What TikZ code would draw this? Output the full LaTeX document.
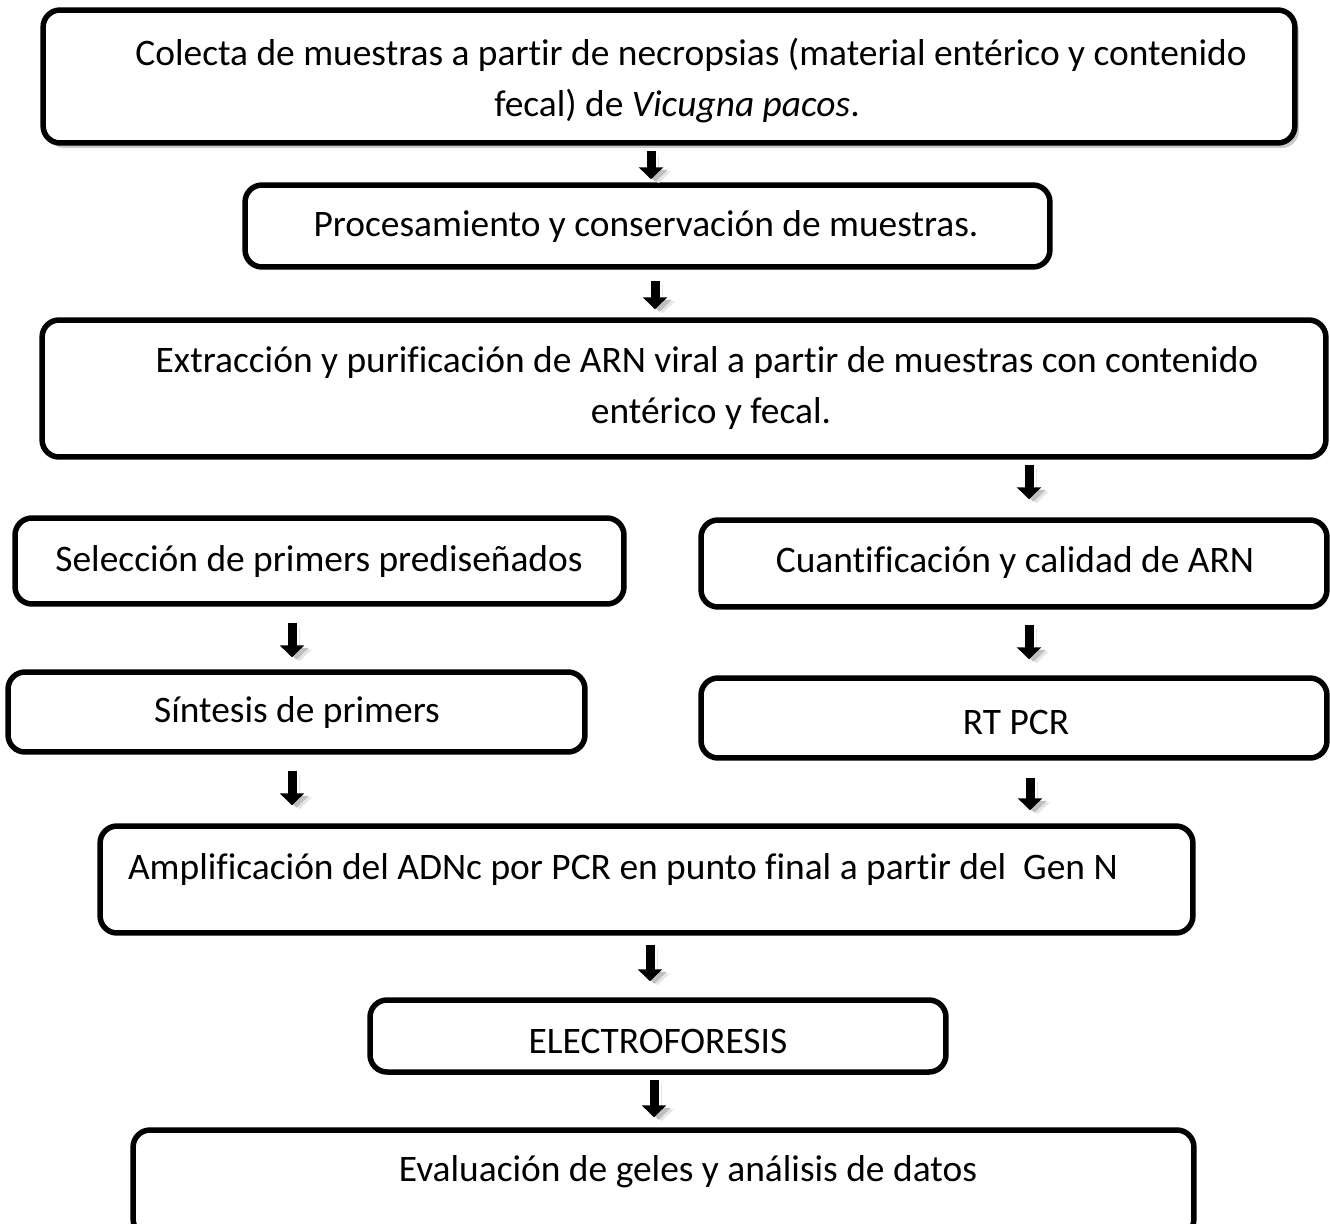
\documentclass[tikz,border=0pt]{standalone}
\usepackage{fontspec}
\setmainfont{Carlito}[Ligatures=NoCommon]
\usetikzlibrary{arrows.meta,shadows}
\begin{document}
\begin{tikzpicture}[x=0.02cm,y=-0.02cm,
  box/.style={draw=black, line width=0.11cm, rounded corners=0.34cm, fill=white, inner sep=0pt},
  bigshadow/.style={drop shadow={shadow xshift=0.08cm, shadow yshift=-0.1cm, fill=black!40, opacity=0.5}},
  txt/.style={font=\fontsize{21.3}{29.5}\selectfont, inner sep=0pt, anchor=center},
  flowarrow/.style={line width=0.18cm, -{Triangle[width=0.48cm,length=0.24cm]},
    preaction={draw=black!10, transform canvas={shift={(0.15cm,-0.08cm)}}},
    preaction={draw=black!25, transform canvas={shift={(0.09cm,-0.05cm)}}}}]
\useasboundingbox (0,0) rectangle (1330,1224);
\fill[white] (0,0) rectangle (1330,1224);

% boxes
\node[box, bigshadow, minimum width=25.04cm, minimum height=2.66cm] (b1) at (669,76.5) {};
\node[box, minimum width=16.10cm, minimum height=1.64cm] (b2) at (647.5,226) {};
\node[box, minimum width=25.68cm, minimum height=2.74cm] (b3) at (684,388.5) {};
\node[box, minimum width=12.18cm, minimum height=1.72cm] (b4) at (319.5,561) {};
\node[box, minimum width=12.52cm, minimum height=1.74cm] (b5) at (1014,563.5) {};
\node[box, minimum width=11.54cm, minimum height=1.60cm] (b6) at (296.5,712) {};
\node[box, minimum width=12.52cm, minimum height=1.60cm] (b7) at (1014,718) {};
\node[box, minimum width=21.86cm, minimum height=2.14cm] (b8) at (646.5,879.5) {};
\node[box, minimum width=11.52cm, minimum height=1.44cm] (b9) at (658,1036) {};
\node[box, minimum width=21.22cm, minimum height=2.12cm] (b10) at (663.5,1183) {};

% texts
\node[txt] (t1a) at (691,55) {Colecta de muestras a partir de necropsias (material entérico y contenido};
\node[txt] (t1b) at (677,106) {fecal) de \textit{Vicugna pacos}.};
\node[txt] (t2) at (646,227) {Procesamiento y conservación de muestras.};
\node[txt] (t3a) at (707,363) {Extracción y purificación de ARN viral a partir de muestras con contenido};
\node[txt] (t3b) at (711,414) {entérico y fecal.};
\node[txt] (t4) at (319,562) {Selección de primers prediseñados};
\node[txt] (t5) at (1015,563) {Cuantificación y calidad de ARN};
\node[txt] (t6) at (297,713) {Síntesis de primers};
\node[txt] (t7) at (1016,722) {RT PCR};
\node[txt] (t8) at (623,870) {Amplificación del ADNc por PCR en punto final a partir del\ \ Gen N};
\node[txt] (t9) at (658,1041) {ELECTROFORESIS};
\node[txt] (t10) at (688,1172) {Evaluación de geles y análisis de datos};

% arrows
\draw[flowarrow, shorten <=0.10cm, shorten >=0.06cm] (b1.south -| 651,0) -- (b2.north -| 651,0);
\draw[flowarrow, shorten <=0.22cm, shorten >=0.16cm] (b2.south -| 655,0) -- (b3.north -| 655,0);
\draw[flowarrow, shorten <=0.10cm, shorten >=0.36cm] (b3.south -| 1029,0) -- (b5.north -| 1029,0);
\draw[flowarrow, shorten <=0.32cm, shorten >=0.24cm] (b4.south -| 292,0) -- (b6.north -| 292,0);
\draw[flowarrow, shorten <=0.30cm, shorten >=0.32cm] (b5.south -| 1029,0) -- (b7.north -| 1029,0);
\draw[flowarrow, shorten <=0.32cm, shorten >=0.36cm] (b6.south -| 292,0) -- (b8.north -| 292,0);
\draw[flowarrow, shorten <=0.34cm, shorten >=0.26cm] (b7.south -| 1030,0) -- (b8.north -| 1030,0);
\draw[flowarrow, shorten <=0.18cm, shorten >=0.32cm] (b8.south -| 650,0) -- (b9.north -| 650,0);
\draw[flowarrow, shorten <=0.10cm, shorten >=0.20cm] (b9.south -| 654,0) -- (b10.north -| 654,0);
\end{tikzpicture}
\end{document}
